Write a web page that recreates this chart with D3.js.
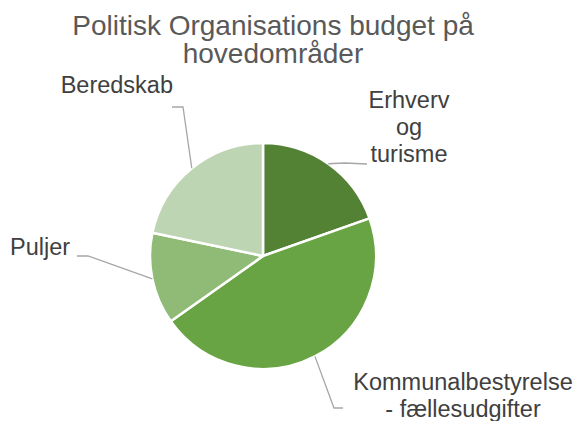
<!DOCTYPE html>
<html>
<head>
<meta charset="utf-8">
<script src="https://cdn.jsdelivr.net/npm/d3@7"></script>
<style>
  body { margin: 0; background: #fff; }
  svg { display: block; font-family: "Liberation Sans", Arial, sans-serif; }
</style>
</head>
<body>
<svg id="chart" width="579" height="421"></svg>
<script>
// data (share of budget, %)
var categories = ["Erhverv og turisme", "Kommunalbestyrelse - fællesudgifter", "Puljer", "Beredskab"];
var values = [19.6, 45.6, 13.1, 21.7];
var labelLines = [["Erhverv", "og", "turisme"], ["Kommunalbestyrelse", "- fællesudgifter"], ["Puljer"], ["Beredskab"]];
var titleLines = ["Politisk Organisations budget på", "hovedområder"];

var colors = ["#548235", "#69a444", "#8fbb77", "#bed5b3"];

// label placement (x, first baseline, anchor) and leader elbow/end
var labelLayout = [
  { x: 409, y: 108, anchor: "middle", elbow: [345, 163], end: [367, 164] },
  { x: 463, y: 390, anchor: "middle", elbow: [334, 408], end: [343, 408] },
  { x: 10,  y: 255, anchor: "start",  elbow: [88, 256],  end: [77, 256] },
  { x: 173, y: 93,  anchor: "end",    elbow: [183, 107], end: [172, 107] }
];

var svg = d3.select("#chart");
var cx = 263, cy = 256, radius = 113;

// title
svg.append("text")
  .attr("text-anchor", "middle")
  .attr("fill", "#595959")
  .style("font-size", "28px")
  .selectAll("tspan")
  .data(titleLines)
  .enter()
  .append("tspan")
  .attr("x", 273)
  .attr("y", function (d, i) { return 35 + i * 28; })
  .text(function (d) { return d; });

var pie = d3.pie().sort(null).value(function (d) { return d; });
var arcs = pie(values);

var arc = d3.arc().innerRadius(0).outerRadius(radius);

var g = svg.append("g").attr("transform", "translate(" + cx + "," + cy + ")");

g.selectAll("path.slice")
  .data(arcs)
  .enter()
  .append("path")
  .attr("class", "slice")
  .attr("d", arc)
  .attr("fill", function (d, i) { return colors[i]; })
  .attr("stroke", "#fff")
  .attr("stroke-width", 2.5)
  .attr("stroke-linejoin", "round");

// leader lines: from the rim at mid angle to the label
var line = d3.line();
svg.selectAll("path.leader")
  .data(arcs)
  .enter()
  .append("path")
  .attr("class", "leader")
  .attr("d", function (d, i) {
    var a = (d.startAngle + d.endAngle) / 2;
    var start = [cx + Math.sin(a) * radius, cy - Math.cos(a) * radius];
    return line([start, labelLayout[i].elbow, labelLayout[i].end]);
  })
  .attr("fill", "none")
  .attr("stroke", "#a6a6a6")
  .attr("stroke-width", 1.3);

// labels
var labels = svg.selectAll("text.label")
  .data(labelLines)
  .enter()
  .append("text")
  .attr("class", "label")
  .attr("fill", "#404040")
  .style("font-size", "23.5px")
  .attr("text-anchor", function (d, i) { return labelLayout[i].anchor; });

labels.each(function (lines, i) {
  d3.select(this).selectAll("tspan")
    .data(lines)
    .enter()
    .append("tspan")
    .attr("x", labelLayout[i].x)
    .attr("y", function (d, j) { return labelLayout[i].y + j * 27; })
    .text(function (d) { return d; });
});
</script>
</body>
</html>
